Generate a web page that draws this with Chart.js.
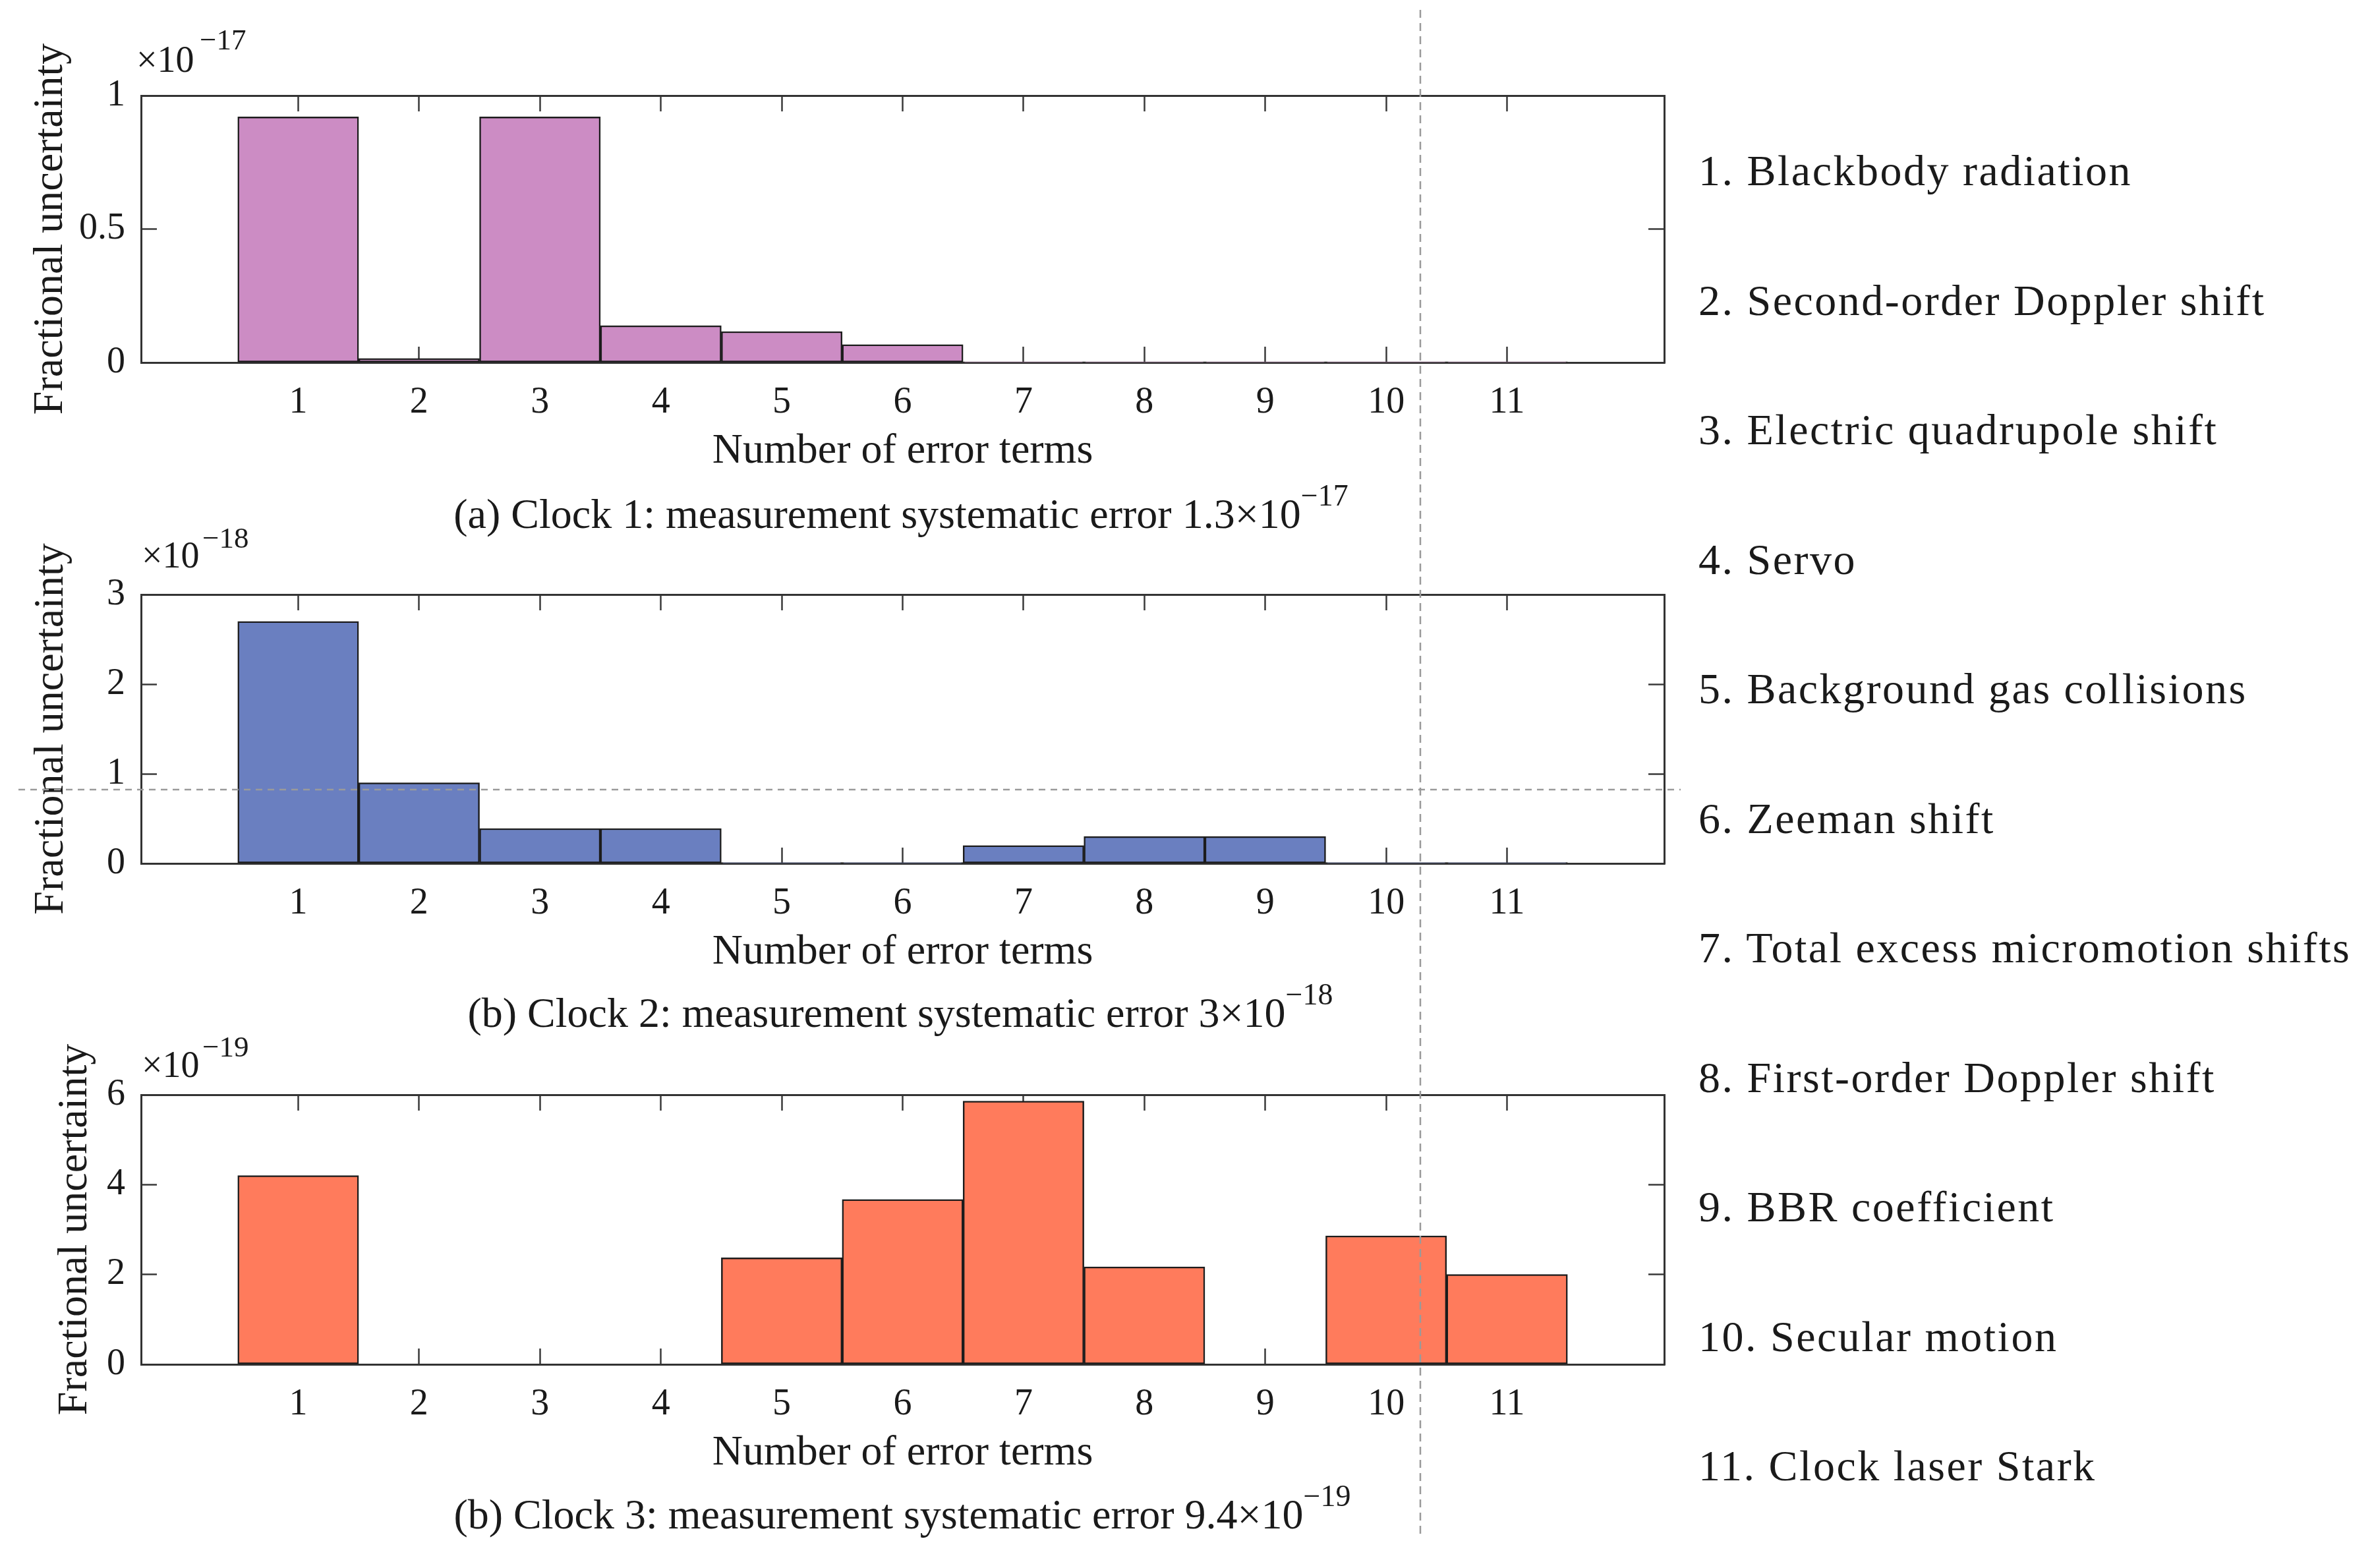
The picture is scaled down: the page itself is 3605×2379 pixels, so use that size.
<!DOCTYPE html>
<html><head><meta charset="utf-8">
<script src="https://cdn.jsdelivr.net/npm/chart.js@4.4.1/dist/chart.umd.min.js"></script>
<style>
html,body{margin:0;padding:0;background:#fff;}
#page{position:relative;width:3605px;height:2379px;background:#fff;overflow:hidden;font-family:"Liberation Serif","Times New Roman",serif;color:#1a1a1a;}
.abs{position:absolute;white-space:nowrap;line-height:1;}
.cap{position:absolute;white-space:nowrap;line-height:1;font-size:64px;width:2000px;text-align:center;}
.leg{position:absolute;white-space:nowrap;line-height:1;font-size:66px;letter-spacing:2.5px;left:2577px;}
canvas{position:absolute;left:0;}
</style></head><body>
<div id="page">
  <canvas id="c1"></canvas>
  <canvas id="c2"></canvas>
  <canvas id="c3"></canvas>
  <svg id="guides" width="3605" height="2379" style="position:absolute;left:0;top:0;pointer-events:none">
    <line x1="2155" y1="15" x2="2155" y2="2335" stroke="#9a9a9a" stroke-width="2.5" stroke-dasharray="12 8"/>
    <line x1="28" y1="1198" x2="2550" y2="1198" stroke="#9a9a9a" stroke-width="2.5" stroke-dasharray="10 8"/>
  </svg>
  <div class="abs" style="left:207px;top:62px;font-size:56px">×10</div>
  <div class="abs" style="left:303px;top:38px;font-size:45px">−17</div>
  <div class="abs" style="left:215px;top:814px;font-size:56px">×10</div>
  <div class="abs" style="left:307px;top:794px;font-size:45px">−18</div>
  <div class="abs" style="left:215px;top:1587px;font-size:56px">×10</div>
  <div class="abs" style="left:307px;top:1566px;font-size:45px">−19</div>
  <div class="cap" style="left:367px;top:748px">(a) Clock 1: measurement systematic error 1.3×10<span style="font-size:46px;position:relative;top:-34px">−17</span></div>
  <div class="cap" style="left:366px;top:1505px">(b) Clock 2: measurement systematic error 3×10<span style="font-size:46px;position:relative;top:-34px">−18</span></div>
  <div class="cap" style="left:369px;top:2266px">(b) Clock 3: measurement systematic error 9.4×10<span style="font-size:46px;position:relative;top:-34px">−19</span></div>
  <div id="legend"></div>
</div>
<script>
// ---- data ----
const categories = [1, 2, 3, 4, 5, 6, 7, 8, 9, 10, 11];
const xTickLabels = ['1', '2', '3', '4', '5', '6', '7', '8', '9', '10', '11'];
const errorTerms = [
  '1. Blackbody radiation',
  '2. Second-order Doppler shift',
  '3. Electric quadrupole shift',
  '4. Servo',
  '5. Background gas collisions',
  '6. Zeeman shift',
  '7. Total excess micromotion shifts',
  '8. First-order Doppler shift',
  '9. BBR coefficient',
  '10. Secular motion',
  '11. Clock laser Stark'
];
// values in units of 1e-17, 1e-18, 1e-19 respectively
const clock1 = [0.92, 0.015, 0.92, 0.138, 0.116, 0.067, 0.003, 0.003, 0.003, 0.003, 0.003];
const clock2 = [2.70, 0.90, 0.39, 0.39, 0.01, 0.01, 0.20, 0.30, 0.30, 0.01, 0.01];
const clock3 = [4.20, 0, 0, 0, 2.37, 3.67, 5.86, 2.17, 0, 2.86, 2.00];
const yTicks1 = [0, 0.5, 1];
const yTickLabels1 = ['0', '0.5', '1'];
const yTicks2 = [0, 1, 2, 3];
const yTickLabels2 = ['0', '1', '2', '3'];
const yTicks3 = [0, 2, 4, 6];
const yTickLabels3 = ['0', '2', '4', '6'];
const xAxisTitle = 'Number of error terms';
const yAxisTitle = 'Fractional uncertainty';

// ---- legend text ----
const legendEl = document.getElementById('legend');
errorTerms.forEach((t, i) => {
  const d = document.createElement('div');
  d.className = 'leg';
  d.style.top = (226 + i * 196.5) + 'px';
  d.textContent = t;
  legendEl.appendChild(d);
});

Chart.defaults.font.family = '"Liberation Serif", "Times New Roman", serif';
Chart.defaults.color = '#1a1a1a';

const PLOT_LEFT = 214, PLOT_RIGHT = 2525, CANVAS_W = 2560, PAD_TOP = 110, AX_H = 190;
const TICK_LEN = -24;
const frameColor = '#333333';

function makePanel(id, plotTop, plotBottom, values, fill, yTicks, yLabels, yTitleX) {
  const canvas = document.getElementById(id);
  const plotH = plotBottom - plotTop;
  const H = PAD_TOP + plotH + AX_H;
  canvas.width = CANVAS_W; canvas.height = H;
  canvas.style.width = CANVAS_W + 'px'; canvas.style.height = H + 'px';
  canvas.style.top = (plotTop - PAD_TOP) + 'px';
  const yMax = yTicks[yTicks.length - 1];
  const gridOpts = {
    drawOnChartArea: false, drawTicks: true, tickLength: TICK_LEN,
    tickColor: '#3a3a3a', tickWidth: 2.5, offset: false
  };
  const borderOpts = { display: true, color: frameColor, width: 3 };
  const setX = s => { s.ticks = categories.map(v => ({ value: v })); };
  const setY = s => { s.ticks = yTicks.map(v => ({ value: v })); };
  return new Chart(canvas, {
    type: 'bar',
    data: {
      datasets: [{
        data: categories.map((c, i) => ({ x: c, y: values[i] })),
        backgroundColor: fill,
        borderColor: '#1c1c1c',
        borderWidth: 2.5,
        borderSkipped: false,
        barPercentage: 1,
        categoryPercentage: 1
      }]
    },
    options: {
      responsive: false,
      animation: false,
      devicePixelRatio: 1,
      layout: { padding: { top: PAD_TOP, right: CANVAS_W - PLOT_RIGHT, bottom: 0, left: 0 } },
      plugins: { legend: { display: false }, tooltip: { enabled: false } },
      scales: {
        x: {
          type: 'linear', position: 'bottom', min: -0.3, max: 12.3, offset: false,
          grid: gridOpts, border: borderOpts,
          afterBuildTicks: setX,
          afterFit: s => { s.height = AX_H; },
          ticks: {
            autoSkip: false, maxRotation: 0, padding: 52,
            font: { size: 56 }, color: '#1a1a1a',
            callback: (v, i) => xTickLabels[i]
          },
          title: {
            display: true, text: xAxisTitle, color: '#1a1a1a',
            font: { size: 64, lineHeight: 1.2 }, padding: { top: 0, bottom: 16 }
          }
        },
        x2: {
          type: 'linear', axis: 'x', position: 'top', min: -0.3, max: 12.3, offset: false,
          grid: gridOpts, border: borderOpts,
          afterBuildTicks: setX,
          afterFit: s => { s.height = 0; },
          ticks: { display: false }
        },
        y: {
          type: 'linear', position: 'left', min: 0, max: yMax,
          grid: gridOpts, border: borderOpts,
          afterBuildTicks: setY,
          afterFit: s => { s.width = PLOT_LEFT; },
          ticks: {
            padding: 48, font: { size: 56 }, color: '#1a1a1a',
            callback: (v, i) => yLabels[i]
          },
          title: {
            display: true, text: yAxisTitle, color: '#1a1a1a',
            font: { size: 64, lineHeight: 1.2 }, padding: { top: yTitleX - 38.4, bottom: 0 }
          }
        },
        y2: {
          type: 'linear', axis: 'y', position: 'right', min: 0, max: yMax,
          grid: gridOpts, border: borderOpts,
          afterBuildTicks: setY,
          afterFit: s => { s.width = 0; },
          ticks: { display: false }
        }
      }
    }
  });
}

makePanel('c1', 145, 550, clock1, '#CC8CC4', yTicks1, yTickLabels1, 77);
makePanel('c2', 902, 1310, clock2, '#6A7FC0', yTicks2, yTickLabels2, 78);
makePanel('c3', 1661, 2070, clock3, '#FF7B5C', yTicks3, yTickLabels3, 114);
</script>
</body></html>
